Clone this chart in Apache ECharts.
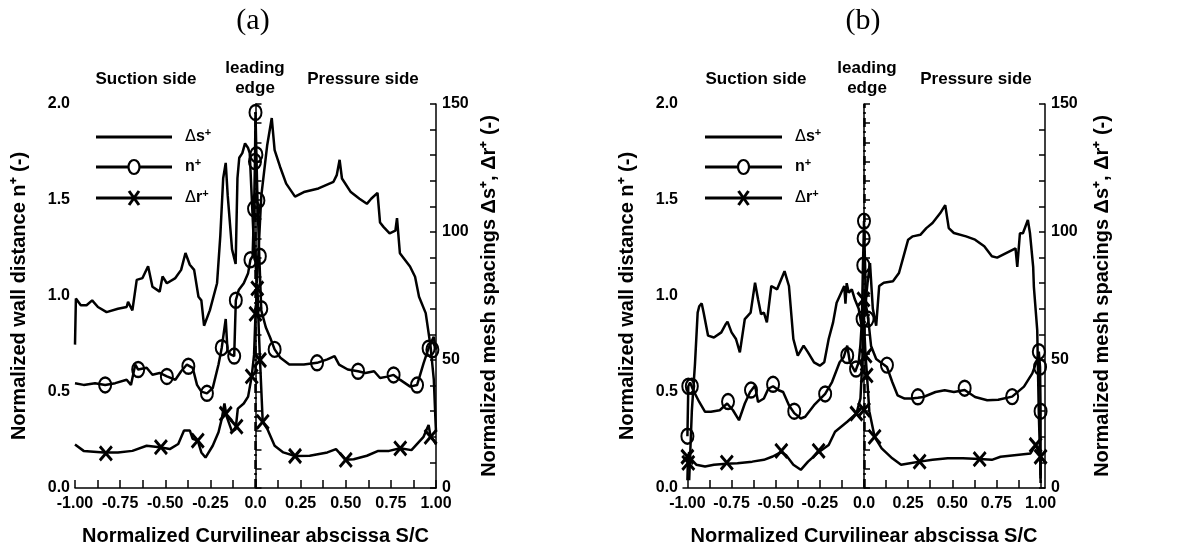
<!DOCTYPE html>
<html><head><meta charset="utf-8">
<script src="https://cdn.jsdelivr.net/npm/echarts@6/dist/echarts.min.js"></script>
<style>html,body{margin:0;padding:0;background:#fff}#c{width:1192px;height:557px}</style>
</head><body><div id="c"></div>
<script>
// ---------- tick / label values ----------
const xTickVals = [-1,-0.875,-0.75,-0.625,-0.5,-0.375,-0.25,-0.125,0,0.125,0.25,0.375,0.5,0.625,0.75,0.875,1];
const xLabelVals = [-1,-0.75,-0.5,-0.25,0,0.25,0.5,0.75,1];
const yLeftTicks = [0,0.1,0.2,0.3,0.4,0.5,0.6,0.7,0.8,0.9,1,1.1,1.2,1.3,1.4,1.5,1.6,1.7,1.8,1.9,2];
const yLeftLabels = [0,0.5,1,1.5,2];
const yRightTicks = [0,10,20,30,40,50,60,70,80,90,100,110,120,130,140,150];
const yRightLabels = [0,50,100,150];

// ---------- panel (a) ----------
const aDs = [[-1.000,56],[-0.995,74],[-0.968,71.4],[-0.936,71.4],[-0.905,73.3],[-0.873,70.7],[-0.825,68.7],[-0.762,70],[-0.714,70.7],[-0.706,72.7],[-0.682,69.4],[-0.658,81.3],[-0.626,82],[-0.595,86.6],[-0.571,78.6],[-0.531,76.7],[-0.515,82.6],[-0.491,80],[-0.444,82],[-0.412,85.2],[-0.388,91.8],[-0.364,87.2],[-0.340,85.2],[-0.316,74.7],[-0.300,73.3],[-0.285,63.4],[-0.253,69.4],[-0.213,80],[-0.195,98.5],[-0.179,121],[-0.165,127],[-0.154,114.3],[-0.130,93.2],[-0.110,87.5],[-0.100,121],[-0.090,129],[-0.073,130.8],[-0.058,134.6],[-0.041,132.8],[-0.032,130.8],[-0.011,98.5],[0.008,80],[0.032,114],[0.065,134],[0.090,144.5],[0.106,132],[0.136,125.5],[0.170,118.9],[0.219,113.8],[0.268,115.6],[0.349,117],[0.432,119.6],[0.450,122.2],[0.466,128.2],[0.479,120.9],[0.528,115.6],[0.576,113],[0.617,111],[0.641,113],[0.676,115.3],[0.690,103.7],[0.709,102],[0.743,99.5],[0.775,100.5],[0.784,105.4],[0.800,91.7],[0.856,86.5],[0.884,82.5],[0.906,74.7],[0.943,68.3],[0.970,55.2],[0.988,42.2],[0.997,26.6],[1.000,22]];
const aN = [[-1.0,0.546],[-0.952,0.537],[-0.889,0.546],[-0.833,0.537],[-0.777,0.546],[-0.714,0.564],[-0.690,0.537],[-0.666,0.643],[-0.650,0.617],[-0.603,0.626],[-0.571,0.590],[-0.531,0.599],[-0.491,0.581],[-0.444,0.564],[-0.412,0.608],[-0.380,0.643],[-0.348,0.626],[-0.324,0.537],[-0.300,0.502],[-0.269,0.493],[-0.237,0.520],[-0.205,0.643],[-0.187,0.731],[-0.165,0.880],[-0.155,0.714],[-0.138,0.696],[-0.118,0.687],[-0.109,0.978],[-0.093,1.031],[-0.065,1.066],[-0.041,1.119],[-0.028,1.189],[-0.016,1.207],[-0.008,1.454],[-0.003,1.700],[0.0,1.956],[0.005,1.736],[0.011,1.498],[0.021,1.207],[0.032,0.925],[0.057,0.837],[0.081,0.784],[0.106,0.722],[0.138,0.678],[0.187,0.643],[0.268,0.643],[0.341,0.652],[0.398,0.670],[0.438,0.687],[0.463,0.643],[0.511,0.617],[0.568,0.608],[0.609,0.599],[0.657,0.608],[0.690,0.573],[0.730,0.580],[0.765,0.589],[0.802,0.563],[0.857,0.528],[0.895,0.536],[0.931,0.649],[0.959,0.728],[0.987,0.788],[1.0,0.72]];
const aNMarks = [[-0.833,0.537],[-0.650,0.617],[-0.491,0.581],[-0.372,0.634],[-0.269,0.493],[-0.187,0.731],[-0.118,0.687],[-0.109,0.978],[-0.028,1.189],[0.024,1.207],[-0.008,1.454],[0.016,1.498],[-0.003,1.700],[0.005,1.736],[0.0,1.956],[0.032,0.934],[0.106,0.722],[0.341,0.652],[0.568,0.608],[0.765,0.589],[0.895,0.536],[0.959,0.728],[0.980,0.72]];
const aDr = [[-1.0,17],[-0.952,14.5],[-0.841,13.9],[-0.762,13.9],[-0.682,14.5],[-0.603,16.5],[-0.531,15.9],[-0.475,15.2],[-0.428,17.2],[-0.396,22.5],[-0.364,22.5],[-0.348,19.2],[-0.320,18.5],[-0.300,13.9],[-0.277,11.9],[-0.237,16.5],[-0.205,21.8],[-0.187,27],[-0.172,33],[-0.160,28],[-0.130,22],[-0.110,23],[-0.098,31],[-0.065,33],[-0.041,35.7],[-0.021,43.6],[-0.008,52],[0.0,68],[0.010,80],[0.018,62],[0.025,50],[0.040,25.8],[0.065,23.1],[0.106,16.5],[0.154,13.9],[0.219,12.5],[0.300,12.6],[0.398,13.9],[0.446,15.2],[0.500,11],[0.544,11.2],[0.617,12.6],[0.680,14.5],[0.740,14.5],[0.802,15.5],[0.864,14.8],[0.931,20],[0.959,24.6],[0.970,20],[0.987,18.75],[1.0,17]];
const aDrMarks = [[-0.829,13.5],[-0.524,16],[-0.320,18.5],[-0.165,29],[-0.105,24],[-0.021,43.6],[0.0,68],[0.010,78],[0.025,50],[0.040,25.8],[0.219,12.5],[0.500,11],[0.802,15.5],[0.970,20]];

// ---------- panel (b) ----------
const bDs = [[-0.990,3],[-0.975,30],[-0.957,48.7],[-0.942,68.5],[-0.933,71],[-0.919,72.1],[-0.908,68.5],[-0.883,59.5],[-0.850,58.8],[-0.808,60.8],[-0.783,64],[-0.773,65],[-0.750,60.8],[-0.725,58.2],[-0.703,53],[-0.675,66],[-0.642,68.5],[-0.617,80.2],[-0.600,73.7],[-0.583,67.9],[-0.567,68.5],[-0.550,64.7],[-0.525,78.9],[-0.492,77.6],[-0.450,84.7],[-0.425,78.9],[-0.400,58.2],[-0.375,51.7],[-0.342,55.6],[-0.317,53],[-0.283,49.1],[-0.250,47.8],[-0.225,49.1],[-0.200,58.2],[-0.175,64.7],[-0.155,72.4],[-0.112,78.9],[-0.105,72],[-0.098,80],[-0.086,76.3],[-0.069,77.6],[-0.052,73.7],[-0.030,70],[-0.010,62],[0.005,70],[0.020,80],[0.034,87.9],[0.050,70],[0.069,63.4],[0.086,78.9],[0.112,80.2],[0.164,80.8],[0.198,84],[0.224,90.5],[0.250,97],[0.276,98.3],[0.319,98.9],[0.353,101.5],[0.388,103.5],[0.431,107.3],[0.460,110.5],[0.480,101.5],[0.509,99.6],[0.578,98.3],[0.629,97],[0.681,94.4],[0.724,90.5],[0.754,90],[0.858,93.6],[0.868,86.4],[0.883,99.5],[0.900,99.5],[0.928,104.7],[0.940,99.5],[0.958,86.4],[0.962,78.6],[0.981,61.7],[0.990,29],[1.000,5]];
const bN = [[-1.0,0.27],[-0.995,0.53],[-0.985,0.55],[-0.967,0.509],[-0.933,0.448],[-0.900,0.397],[-0.867,0.397],[-0.817,0.405],[-0.775,0.440],[-0.742,0.405],[-0.708,0.353],[-0.675,0.44],[-0.645,0.50],[-0.617,0.534],[-0.600,0.448],[-0.567,0.466],[-0.542,0.517],[-0.515,0.53],[-0.483,0.509],[-0.458,0.5],[-0.425,0.431],[-0.395,0.39],[-0.358,0.362],[-0.333,0.371],[-0.283,0.431],[-0.220,0.49],[-0.181,0.552],[-0.138,0.655],[-0.115,0.681],[-0.095,0.741],[-0.080,0.655],[-0.050,0.605],[-0.030,0.655],[-0.020,0.75],[-0.012,0.87],[-0.006,1.16],[-0.002,1.30],[0.0,1.39],[0.005,1.2],[0.012,0.95],[0.025,0.87],[0.040,0.74],[0.069,0.672],[0.130,0.630],[0.160,0.552],[0.190,0.483],[0.230,0.466],[0.270,0.466],[0.305,0.470],[0.336,0.474],[0.405,0.5],[0.457,0.509],[0.509,0.5],[0.570,0.51],[0.629,0.474],[0.698,0.457],[0.760,0.46],[0.839,0.476],[0.906,0.528],[0.953,0.597],[0.981,0.667],[0.990,0.71],[0.997,0.63],[1.0,0.40],[1.0,0.05]];
const bNMarks = [[-1.0,0.27],[-0.995,0.53],[-0.975,0.53],[-0.770,0.45],[-0.640,0.51],[-0.515,0.54],[-0.395,0.40],[-0.220,0.49],[-0.095,0.69],[-0.045,0.62],[-0.008,0.88],[0.020,0.88],[-0.004,1.16],[-0.002,1.30],[0.0,1.39],[0.130,0.64],[0.305,0.475],[0.570,0.52],[0.839,0.476],[0.990,0.71],[0.997,0.63],[1.0,0.40]];
const bDr = [[-1.0,3],[-0.997,12],[-0.990,14],[-0.983,11.6],[-0.950,9.1],[-0.900,8.4],[-0.850,9.1],[-0.780,9.5],[-0.717,9.7],[-0.633,10.3],[-0.567,11],[-0.517,12.3],[-0.470,14],[-0.442,12.9],[-0.400,9.1],[-0.358,7.1],[-0.317,10.3],[-0.257,14],[-0.200,16.8],[-0.164,22],[-0.095,25.9],[-0.043,29.1],[-0.020,35],[-0.009,50],[-0.003,73.7],[0.003,60],[0.009,51.7],[0.017,44],[0.030,30],[0.060,20],[0.100,15.5],[0.160,11.6],[0.210,9.1],[0.260,9.7],[0.315,10.3],[0.388,11],[0.474,11.6],[0.560,11.6],[0.655,11.3],[0.724,11],[0.773,12.2],[0.943,13.5],[0.972,16.8],[0.990,14],[1.0,12.2],[1.0,2]];
const bDrMarks = [[-1.0,12.2],[-0.995,9.8],[-0.777,9.9],[-0.468,14.5],[-0.257,14.5],[-0.043,29.1],[0.0,30.5],[-0.003,73.7],[0.009,51.7],[0.015,44],[0.060,20],[0.315,10.3],[0.655,11.3],[0.972,16.8],[1.0,12.2]];

// ---------- annotation texts ----------
const panelTitles = ['(a)','(b)'];
const sideTexts = ['Suction side','leading\nedge','Pressure side'];
const legendNames = ['Δs⁺','n⁺','Δr⁺'];

const FONT = 'Liberation Sans';
const circlePath = 'path://M0,-7A5.5,7 0 1 1 0,7A5.5,7 0 1 1 0,-7Z';
const crossPath = 'path://M0,0L11,13M11,0L0,13';

function fmtX(v){ return v === 0 ? '0.0' : v.toFixed(2); }

const grids = [
  {left:75, top:104, width:361, height:384},
  {left:683, top:104, width:362, height:384}
];
const xRanges = [[-1,1],[-1.025,1.025]];
const nameGaps = [[46,43],[46,47]];

const xAxes = [], yAxes = [], series = [], graphics = [];
const lblStyle = {color:'#000', fontFamily:FONT, fontWeight:'bold', fontSize:16};
const nameStyle = {color:'#000', fontFamily:FONT, fontWeight:'bold', fontSize:20};

const data = [
  {ds:aDs, n:aN, nm:aNMarks, dr:aDr, drm:aDrMarks, le:1.96},
  {ds:bDs, n:bN, nm:bNMarks, dr:bDr, drm:bDrMarks, le:2.0}
];

for (let g = 0; g < 2; g++) {
  xAxes.push({
    type:'value', gridIndex:g, min:xRanges[g][0], max:xRanges[g][1],
    name:'Normalized Curvilinear abscissa S/C', nameLocation:'middle', nameGap:38, nameTextStyle:nameStyle,
    axisLine:{show:true, onZero:false, lineStyle:{color:'#000', width:1.5}},
    axisTick:{show:true, inside:true, length:8, customValues:xTickVals, lineStyle:{color:'#000', width:1.5}},
    axisLabel:{show:true, margin:8, customValues:xLabelVals, formatter:fmtX, ...lblStyle},
    splitLine:{show:false}
  });
  yAxes.push({
    type:'value', gridIndex:g, position:'left', min:0, max:2,
    name:'Normalized wall distance n⁺ (-)', nameLocation:'middle', nameRotate:90, nameGap:nameGaps[g][0], nameTextStyle:nameStyle,
    axisLine:{show:true, lineStyle:{color:'#000', width:1.5}},
    axisTick:{show:true, inside:true, length:6, customValues:yLeftTicks, lineStyle:{color:'#000', width:1.5}},
    axisLabel:{show:true, margin:5, customValues:yLeftLabels, formatter:v=>v.toFixed(1), ...lblStyle},
    splitLine:{show:false}
  });
  yAxes.push({
    type:'value', gridIndex:g, position:'right', min:0, max:150,
    name:'Normalized mesh spacings Δs⁺, Δr⁺ (-)', nameLocation:'middle', nameRotate:90, nameGap:nameGaps[g][1], nameTextStyle:nameStyle,
    axisLine:{show:true, lineStyle:{color:'#000', width:1.5}},
    axisTick:{show:true, inside:true, length:6, customValues:yRightTicks, lineStyle:{color:'#000', width:1.5}},
    axisLabel:{show:true, margin:6, customValues:yRightLabels, ...lblStyle},
    splitLine:{show:false}
  });
  const d = data[g];
  const lineBase = {type:'line', xAxisIndex:g, symbol:'none', showSymbol:false, animation:false, silent:true, z:3,
                    lineStyle:{color:'#000', width:2.5}};
  series.push({...lineBase, name:'ds'+g, yAxisIndex:2*g+1, data:d.ds});
  series.push({...lineBase, name:'n'+g, yAxisIndex:2*g, data:d.n,
    markLine:{silent:true, symbol:['none','none'], label:{show:false}, animation:false,
      lineStyle:{color:'#000', width:2.5, type:[9,4,2,4]},
      data:[[{coord:[0,0]},{coord:[0,d.le]}]]}});
  series.push({...lineBase, name:'dr'+g, yAxisIndex:2*g+1, data:d.dr});
  series.push({type:'scatter', xAxisIndex:g, yAxisIndex:2*g, data:d.nm, symbol:circlePath, symbolSize:[12,15],
    animation:false, silent:true, z:4, itemStyle:{color:'rgba(0,0,0,0)', borderColor:'#000', borderWidth:2.2, opacity:1}});
  series.push({type:'scatter', xAxisIndex:g, yAxisIndex:2*g+1, data:d.drm, symbol:crossPath, symbolSize:[12,14],
    animation:false, silent:true, z:4, itemStyle:{color:'rgba(0,0,0,0)', borderColor:'#000', borderWidth:3, opacity:1}});
}

// ---------- annotations (layout only) ----------
const titleCx = [253, 863];
const sideCx = [[146,255,363],[756,867,976]];
const legX = [[96,172,185],[705,782,795]];
const legY = [137,167,198];
for (let g = 0; g < 2; g++) {
  graphics.push({type:'text', x:titleCx[g], y:21, style:{text:panelTitles[g], font:'30px "Liberation Serif"', fill:'#000', textAlign:'center', textVerticalAlign:'middle'}});
  graphics.push({type:'text', x:sideCx[g][0], y:79, style:{text:sideTexts[0], font:'bold 17px "'+FONT+'"', fill:'#000', textAlign:'center', textVerticalAlign:'middle'}});
  graphics.push({type:'text', x:sideCx[g][1], y:78, style:{text:sideTexts[1], font:'bold 17px "'+FONT+'"', lineHeight:20, fill:'#000', textAlign:'center', textVerticalAlign:'middle'}});
  graphics.push({type:'text', x:sideCx[g][2], y:79, style:{text:sideTexts[2], font:'bold 17px "'+FONT+'"', fill:'#000', textAlign:'center', textVerticalAlign:'middle'}});
  const [x1,x2,tx] = legX[g];
  const cx = (x1+x2)/2;
  for (let i = 0; i < 3; i++) {
    graphics.push({type:'line', shape:{x1:x1, y1:legY[i], x2:x2, y2:legY[i]}, style:{stroke:'#000', lineWidth:3}});
    graphics.push({type:'text', x:tx, y:legY[i], style:{
      text: i===1 ? '{b|n}{s|+}' : '{d|Δ}{b|'+(i===0?'s':'r')+'}{s|+}',
      rich:{d:{font:'16px "DejaVu Sans"', fill:'#000'}, b:{font:'bold 16px "'+FONT+'"', fill:'#000'}, s:{font:'bold 11px "'+FONT+'"', fill:'#000', verticalAlign:'top', padding:[0,0,8,0]}},
      textVerticalAlign:'middle', textAlign:'left'}});
  }
  graphics.push({type:'ellipse', shape:{cx:cx, cy:legY[1], rx:5.5, ry:7}, style:{fill:'#fff', stroke:'#000', lineWidth:2.2}});
  graphics.push({type:'polyline', shape:{points:[[cx-5,legY[2]-7],[cx+5,legY[2]+7]]}, style:{stroke:'#000', lineWidth:3}});
  graphics.push({type:'polyline', shape:{points:[[cx+5,legY[2]-7],[cx-5,legY[2]+7]]}, style:{stroke:'#000', lineWidth:3}});
}

const chart = echarts.init(document.getElementById('c'), null, {renderer:'canvas'});
chart.setOption({
  backgroundColor:'#fff',
  animation:false,
  grid:grids,
  xAxis:xAxes,
  yAxis:yAxes,
  series:series,
  graphic:graphics
});
</script>
</body></html>
